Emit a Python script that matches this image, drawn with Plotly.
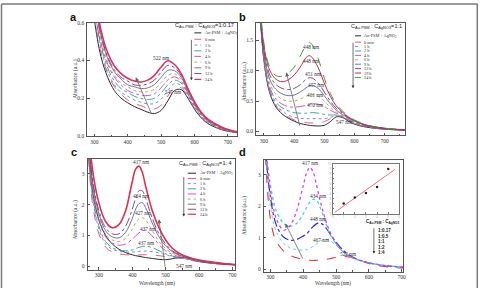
import plotly.graph_objects as go

# ---------------- Panel a : C(Au-PSM):C(AgNO3) = 1:0.17 ----------------
WL_A = [280, 300, 320, 340, 360, 380, 400, 420, 440, 460, 480, 500, 520, 540, 560, 580, 600, 620, 640, 680, 720, 740]
A_AUAG = [1.00, 0.62, 0.42, 0.31, 0.24, 0.20, 0.175, 0.155, 0.14, 0.125, 0.118, 0.135, 0.185, 0.24, 0.245, 0.20, 0.14, 0.095, 0.065, 0.033, 0.018, 0.013]
A_0MIN = [1.04, 0.64, 0.44, 0.33, 0.26, 0.22, 0.19, 0.17, 0.16, 0.145, 0.142, 0.163, 0.211, 0.257, 0.255, 0.206, 0.145, 0.099, 0.068, 0.035, 0.019, 0.013]
A_1H = [1.08, 0.66, 0.46, 0.34, 0.27, 0.23, 0.21, 0.19, 0.178, 0.169, 0.171, 0.195, 0.240, 0.276, 0.267, 0.213, 0.150, 0.103, 0.071, 0.037, 0.020, 0.014]
A_2H = [1.12, 0.68, 0.48, 0.36, 0.29, 0.25, 0.23, 0.21, 0.198, 0.193, 0.199, 0.227, 0.270, 0.295, 0.279, 0.220, 0.156, 0.107, 0.074, 0.039, 0.020, 0.014]
A_4H = [1.16, 0.70, 0.49, 0.38, 0.31, 0.27, 0.24, 0.225, 0.215, 0.213, 0.223, 0.255, 0.296, 0.312, 0.289, 0.226, 0.161, 0.111, 0.077, 0.040, 0.021, 0.015]
A_6H = [1.19, 0.72, 0.51, 0.39, 0.32, 0.28, 0.26, 0.24, 0.233, 0.234, 0.247, 0.282, 0.321, 0.328, 0.299, 0.232, 0.166, 0.114, 0.080, 0.042, 0.022, 0.015]
A_9H = [1.23, 0.74, 0.53, 0.41, 0.34, 0.30, 0.27, 0.26, 0.250, 0.254, 0.272, 0.310, 0.347, 0.345, 0.310, 0.238, 0.170, 0.118, 0.082, 0.044, 0.023, 0.015]
A_12H = [1.26, 0.76, 0.54, 0.42, 0.35, 0.31, 0.29, 0.27, 0.268, 0.275, 0.296, 0.337, 0.373, 0.361, 0.320, 0.244, 0.175, 0.121, 0.085, 0.045, 0.023, 0.016]
A_24H = [1.30, 0.78, 0.56, 0.44, 0.37, 0.33, 0.305, 0.29, 0.285, 0.295, 0.32, 0.365, 0.398, 0.378, 0.33, 0.25, 0.18, 0.125, 0.088, 0.047, 0.024, 0.016]

# ---------------- Panel b : 1:1 ----------------
WL_B = [280, 300, 320, 340, 360, 380, 400, 420, 440, 450, 460, 480, 500, 520, 540, 560, 580, 600, 640, 680, 720, 760, 770]
B_AUAG = [2.5, 1.16, 0.62, 0.40, 0.29, 0.22, 0.17, 0.13, 0.11, 0.10, 0.095, 0.09, 0.10, 0.16, 0.24, 0.23, 0.17, 0.12, 0.07, 0.045, 0.03, 0.02, 0.02]
B_0MIN = [2.5, 1.17, 0.63, 0.42, 0.31, 0.24, 0.19, 0.16, 0.145, 0.14, 0.14, 0.14, 0.16, 0.21, 0.26, 0.24, 0.18, 0.13, 0.075, 0.048, 0.032, 0.022, 0.02]
B_1H = [2.5, 1.18, 0.65, 0.44, 0.34, 0.27, 0.235, 0.215, 0.21, 0.21, 0.212, 0.21, 0.21, 0.23, 0.26, 0.24, 0.18, 0.13, 0.078, 0.05, 0.033, 0.022, 0.02]
B_2H = [2.5, 1.20, 0.68, 0.48, 0.39, 0.34, 0.31, 0.30, 0.30, 0.305, 0.31, 0.30, 0.28, 0.27, 0.27, 0.24, 0.19, 0.14, 0.082, 0.052, 0.034, 0.023, 0.02]
B_4H = [2.5, 1.22, 0.72, 0.53, 0.45, 0.41, 0.40, 0.41, 0.43, 0.44, 0.45, 0.45, 0.41, 0.35, 0.30, 0.25, 0.20, 0.15, 0.088, 0.055, 0.036, 0.024, 0.022]
B_6H = [2.5, 1.26, 0.78, 0.61, 0.53, 0.50, 0.50, 0.53, 0.58, 0.60, 0.61, 0.58, 0.50, 0.40, 0.32, 0.26, 0.21, 0.16, 0.093, 0.058, 0.038, 0.025, 0.023]
B_9H = [2.5, 1.30, 0.85, 0.69, 0.62, 0.59, 0.60, 0.65, 0.72, 0.75, 0.76, 0.71, 0.59, 0.46, 0.35, 0.28, 0.22, 0.17, 0.098, 0.06, 0.04, 0.026, 0.024]
B_12H = [2.5, 1.35, 0.92, 0.77, 0.71, 0.69, 0.71, 0.77, 0.86, 0.885, 0.88, 0.80, 0.65, 0.50, 0.38, 0.30, 0.23, 0.175, 0.10, 0.062, 0.041, 0.027, 0.025]
B_19H = [2.6, 1.40, 1.00, 0.86, 0.82, 0.85, 0.93, 1.06, 1.22, 1.25, 1.22, 1.05, 0.80, 0.58, 0.42, 0.32, 0.24, 0.18, 0.105, 0.065, 0.043, 0.028, 0.026]
B_24H = [2.7, 1.45, 1.05, 0.92, 0.91, 0.96, 1.06, 1.24, 1.43, 1.47, 1.43, 1.20, 0.88, 0.63, 0.45, 0.34, 0.25, 0.19, 0.11, 0.068, 0.045, 0.03, 0.027]

# ---------------- Panel c : 1:4 ----------------
WL_C = [266, 280, 300, 320, 340, 360, 380, 400, 410, 420, 430, 440, 460, 480, 500, 520, 540, 560, 580, 600, 640, 680, 708]
C_AUAG = [4.0, 2.5, 1.5, 1.0, 0.72, 0.55, 0.44, 0.37, 0.34, 0.32, 0.30, 0.28, 0.25, 0.22, 0.21, 0.24, 0.28, 0.27, 0.21, 0.15, 0.09, 0.055, 0.04]
C_0MIN = [4.1, 2.1, 1.05, 0.62, 0.46, 0.40, 0.37, 0.36, 0.36, 0.365, 0.37, 0.37, 0.36, 0.34, 0.31, 0.28, 0.26, 0.22, 0.18, 0.15, 0.095, 0.06, 0.042]
C_1H = [4.2, 2.3, 1.2, 0.72, 0.55, 0.48, 0.46, 0.46, 0.47, 0.48, 0.49, 0.49, 0.47, 0.43, 0.37, 0.31, 0.27, 0.23, 0.19, 0.155, 0.10, 0.063, 0.044]
C_2H = [4.3, 2.4, 1.3, 0.80, 0.60, 0.52, 0.50, 0.53, 0.57, 0.61, 0.64, 0.65, 0.60, 0.50, 0.40, 0.33, 0.28, 0.24, 0.20, 0.16, 0.10, 0.065, 0.045]
C_4H = [4.5, 2.6, 1.5, 0.95, 0.75, 0.68, 0.72, 0.88, 0.98, 1.08, 1.15, 1.16, 0.98, 0.70, 0.50, 0.38, 0.31, 0.26, 0.21, 0.17, 0.105, 0.068, 0.046]
C_6H = [4.6, 2.7, 1.6, 1.05, 0.85, 0.80, 0.90, 1.20, 1.40, 1.54, 1.58, 1.50, 1.15, 0.80, 0.57, 0.42, 0.34, 0.27, 0.22, 0.175, 0.11, 0.07, 0.048]
C_9H = [4.8, 2.8, 1.7, 1.15, 0.95, 0.92, 1.10, 1.55, 1.85, 2.03, 2.06, 1.90, 1.40, 0.95, 0.66, 0.47, 0.36, 0.29, 0.23, 0.18, 0.115, 0.072, 0.05]
C_12H = [5.0, 2.9, 1.8, 1.25, 1.05, 1.05, 1.30, 1.85, 2.20, 2.45, 2.45, 2.20, 1.55, 1.05, 0.72, 0.50, 0.38, 0.30, 0.24, 0.19, 0.12, 0.075, 0.05]
C_24H = [5.2, 3.2, 2.05, 1.45, 1.25, 1.35, 1.80, 2.75, 3.15, 3.25, 3.05, 2.60, 1.80, 1.25, 0.85, 0.58, 0.42, 0.32, 0.25, 0.20, 0.13, 0.08, 0.055]

# ---------------- Panel d : different ratios after 24 h ----------------
WL_D = [285, 292, 300, 310, 320, 340, 360, 380, 400, 410, 420, 430, 440, 450, 460, 470, 480, 500, 520, 540, 560, 580, 600, 640, 680, 705]
D_1_017 = [3.6, 2.4, 1.6, 1.1, 0.85, 0.58, 0.44, 0.36, 0.31, 0.29, 0.28, 0.275, 0.28, 0.285, 0.295, 0.31, 0.33, 0.37, 0.40, 0.385, 0.33, 0.25, 0.18, 0.09, 0.05, 0.035]
D_1_05 = [3.8, 2.8, 2.0, 1.45, 1.15, 0.82, 0.68, 0.62, 0.60, 0.62, 0.66, 0.72, 0.80, 0.88, 0.93, 0.95, 0.92, 0.76, 0.57, 0.43, 0.33, 0.26, 0.20, 0.12, 0.08, 0.06]
D_1_1 = [3.9, 3.0, 2.3, 1.7, 1.35, 1.02, 0.92, 0.94, 1.05, 1.12, 1.23, 1.35, 1.44, 1.47, 1.42, 1.30, 1.15, 0.86, 0.62, 0.45, 0.34, 0.26, 0.20, 0.12, 0.08, 0.06]
D_1_2 = [4.0, 3.3, 2.7, 2.15, 1.80, 1.46, 1.36, 1.45, 1.75, 1.95, 2.12, 2.22, 2.20, 2.00, 1.72, 1.42, 1.15, 0.80, 0.56, 0.41, 0.32, 0.25, 0.20, 0.13, 0.085, 0.065]
D_1_4 = [4.0, 3.2, 2.5, 1.9, 1.55, 1.24, 1.38, 1.85, 2.65, 3.05, 3.24, 3.10, 2.70, 2.25, 1.85, 1.50, 1.22, 0.82, 0.57, 0.42, 0.32, 0.25, 0.20, 0.13, 0.085, 0.065]

# inset of panel d
INSET_X = [1, 2, 3, 4, 5]
INSET_Y = [2.0, 3.2, 4.1, 5.3, 8.9]

TIME_NAMES_A = ["Au-PSM + AgNO<sub>3</sub>", "0 min", "1 h", "2 h", "4 h", "6 h", "9 h", "12 h", "24 h"]
TIME_NAMES_B = ["Au-PSM + AgNO<sub>3</sub>", "0 min", "1 h", "2 h", "4 h", "6 h", "9 h", "12 h", "19 h", "24 h"]
RATIO_NAMES = ["1:0.17", "1:0.5", "1:1", "1:2", "1:4"]

W, H = 481, 291
def PX(x):
    return x / W
def PY(y):
    return 1 - y / H

SERIF = "Liberation Serif"
SANS = "Liberation Sans"
AX_COL = "#555555"
TXT_COL = "#333333"

# styles: (color, dash, width)
ST = {
    "Au-PSM + AgNO<sub>3</sub>": ("#2b2b2b", "solid", 1.0),
    "0 min": ("#e0506a", "dash", 0.9),
    "1 h": ("#7080d0", "dot", 0.9),
    "2 h": ("#2a9d9a", "dashdot", 0.9),
    "4 h": ("#d040c0", "dashdot", 0.9),
    "6 h": ("#b0a830", "dot", 0.9),
    "9 h": ("#303a90", "solid", 0.7),
    "12 h": ("#7a3a6a", "dashdot", 0.9),
    "19 h": ("#d02848", "solid", 1.0),
}

fig = go.Figure()

def add_series(wl, ys, names, xa, ya, last_style):
    for name, y in zip(names, ys):
        c, d, w = last_style if name == "24 h" else ST[name]
        fig.add_trace(go.Scatter(x=wl, y=y, mode="lines", name=name,
                                 line=dict(color=c, dash=d, width=w, shape="spline", smoothing=1.0),
                                 xaxis=xa, yaxis=ya, showlegend=False, hoverinfo="skip"))

add_series(WL_A, [A_AUAG, A_0MIN, A_1H, A_2H, A_4H, A_6H, A_9H, A_12H, A_24H], TIME_NAMES_A, "x", "y",
           ("#e03060", "solid", 1.6))
add_series(WL_B, [B_AUAG, B_0MIN, B_1H, B_2H, B_4H, B_6H, B_9H, B_12H, B_19H, B_24H], TIME_NAMES_B, "x2", "y2",
           ("#3aa040", "dash", 1.0))
add_series(WL_C, [C_AUAG, C_0MIN, C_1H, C_2H, C_4H, C_6H, C_9H, C_12H, C_24H], TIME_NAMES_A, "x3", "y3",
           ("#e03050", "solid", 1.6))

D_STYLES = [("#e03838", "dash", 1.1), ("#60d0e0", "dot", 1.0), ("#3030c0", "dashdot", 1.2),
            ("#30d8d8", "dot", 1.2), ("#e040e0", "dot", 1.3)]
for name, y, (c, d, w) in zip(RATIO_NAMES, [D_1_017, D_1_05, D_1_1, D_1_2, D_1_4], D_STYLES):
    fig.add_trace(go.Scatter(x=WL_D, y=y, mode="lines", name=name,
                             line=dict(color=c, dash=d, width=w, shape="spline", smoothing=0.9),
                             xaxis="x4", yaxis="y4", showlegend=False, hoverinfo="skip"))

# inset: points and their least-squares line
n = len(INSET_X)
mx = sum(INSET_X) / n
my = sum(INSET_Y) / n
slope = sum((a - mx) * (b - my) for a, b in zip(INSET_X, INSET_Y)) / sum((a - mx) ** 2 for a in INSET_X)
icpt = my - slope * mx
fit_x = [0.2, 5.6]
fig.add_trace(go.Scatter(x=fit_x, y=[icpt + slope * v for v in fit_x], mode="lines",
                         line=dict(color="#e05050", width=0.8), xaxis="x5", yaxis="y5",
                         showlegend=False, hoverinfo="skip"))
fig.add_trace(go.Scatter(x=INSET_X, y=INSET_Y, mode="markers",
                         marker=dict(color="#222222", size=2.5), xaxis="x5", yaxis="y5",
                         showlegend=False, hoverinfo="skip"))

def xax(domain, rng, anchor):
    return dict(domain=domain, range=rng, anchor=anchor, showgrid=False, zeroline=False,
                showline=True, mirror=True, linecolor=AX_COL, linewidth=1,
                ticks="inside", ticklen=2.5, tickcolor=AX_COL, tickwidth=0.7,
                tickvals=[300, 400, 500, 600, 700],
                minor=dict(ticks="inside", ticklen=1.5, dtick=50, tickcolor=AX_COL),
                tickfont=dict(family=SERIF, size=5.5, color=TXT_COL), ticklabelstandoff=0)

def yax(domain, rng, anchor, tv, fmt):
    return dict(domain=domain, range=rng, anchor=anchor, showgrid=False, zeroline=False,
                showline=True, mirror=True, linecolor=AX_COL, linewidth=1,
                ticks="inside", ticklen=2.5, tickcolor=AX_COL, tickwidth=0.7,
                tickvals=tv, tickformat=fmt,
                tickfont=dict(family=SERIF, size=5.5, color=TXT_COL), ticklabelstandoff=1)

fig.update_layout(
    width=W, height=H, margin=dict(l=0, r=0, t=0, b=0),
    paper_bgcolor="white", plot_bgcolor="white", showlegend=False,
    xaxis=xax([PX(87), PX(238)], [279, 727], "y"),
    yaxis=yax([PY(136), PY(20)], [-0.002, 0.6], "x", [0, 0.2, 0.4, 0.6], ".1f"),
    xaxis2=xax([PX(257.3), PX(407.7)], [274, 769], "y2"),
    yaxis2=yax([PY(135), PY(20.7)], [-0.063, 1.785], "x2", [0, 0.5, 1.0, 1.5], ".1f"),
    xaxis3=xax([PX(87.3), PX(236)], [266, 708], "y3"),
    yaxis3=yax([PY(272.3), PY(159)], [-0.115, 3.49], "x3", [0, 1, 2, 3], "d"),
    xaxis4=xax([PX(265), PX(405.7)], [280, 705], "y4"),
    yaxis4=yax([PY(274.3), PY(160)], [-0.08, 3.48], "x4", [0, 1, 2, 3], "d"),
    xaxis5=dict(domain=[PX(334.3), PX(401.7)], range=[0, 6], anchor="y5", showgrid=False, zeroline=False,
                showline=True, mirror=True, linecolor="#777777", linewidth=0.6, ticks="inside",
                ticklen=1.5, tickcolor="#777777", dtick=1, tickfont=dict(size=3, color="#999999"),
                ticklabelstandoff=0),
    yaxis5=dict(domain=[PY(215), PY(164)], range=[0, 10], anchor="x5", showgrid=False, zeroline=False,
                showline=True, mirror=True, linecolor="#777777", linewidth=0.6, ticks="inside",
                ticklen=1.5, tickcolor="#777777", dtick=1, tickfont=dict(size=3, color="#999999"),
                ticklabelstandoff=0),
)

ann = []
shapes = []

def txt(x, y, s, size=5.5, fam=SERIF, xanchor="center", yanchor="middle", angle=0, color=TXT_COL, xref="paper", yref="paper"):
    ann.append(dict(x=x, y=y, xref=xref, yref=yref, text=s, showarrow=False, xanchor=xanchor, yanchor=yanchor,
                    textangle=angle, font=dict(family=fam, size=size, color=color)))

# panel letters
for lab, (x, y) in zip("abcd", [(72.7, 14), (243.3, 14), (74, 152.3), (243.3, 152.3)]):
    txt(PX(x), PY(y), "<b>%s</b>" % lab, size=11, fam=SANS, color="#111111")

# axis titles
for x, y in [(75, 78), (245, 80), (75, 221.7), (245, 216.7)]:
    txt(PX(x), PY(y), "Absorbance (a.u.)", size=5.5, angle=-90)
for x, y in [(157, 286.5), (335, 286.5)]:
    txt(PX(x), PY(y), "Wavelength (nm)", size=5.2)

# peak labels (data coords)
def plab(xr, yr, x, y, s):
    txt(x, y, s, size=5.3, xref=xr, yref=yr)

plab("x", "y", 501, 0.413, "522 nm")
plab("x", "y", 536, 0.232, "547 nm")
for x, y, s in [(458, 1.39, "448 nm"), (458, 1.16, "448 nm"), (464, 0.94, "451 nm"), (475, 0.76, "457 nm"),
                (470, 0.60, "461 nm"), (470, 0.44, "470 nm"), (568, 0.15, "547 nm")]:
    plab("x2", "y2", x, y, s)
for x, y, s in [(428, 3.39, "417 nm"), (428, 2.27, "424 nm"), (434, 1.74, "427 nm"), (450, 1.21, "437 nm"),
                (442, 0.75, "437 nm"), (556, 0.02, "547 nm")]:
    plab("x3", "y3", x, y, s)
for x, y, s in [(421, 3.38, "417 nm"), (446, 2.32, "434 nm"), (446, 1.58, "448 nm"), (456, 0.93, "467 nm"),
                (537, 0.47, "522 nm")]:
    plab("x4", "y4", x, y, s)

# trend arrows (data coords)
def darrow(xr, yr, x0, y0, x1, y1):
    ann.append(dict(x=x1, y=y1, ax=x0, ay=y0, xref=xr, yref=yr, axref=xr, ayref=yr, text="",
                    showarrow=True, arrowhead=2, arrowsize=1.0, arrowwidth=0.8, arrowcolor="#666666"))

darrow("x", "y", 472, 0.113, 424, 0.31)
darrow("x2", "y2", 420, 0.07, 374, 0.976)
darrow("x3", "y3", 499, -0.07, 480, 1.52)
darrow("x4", "y4", 401, 0.29, 345.6, 1.45)

# manual legends
TITLE_FMT = "C<sub>Au-PSM</sub> : C<sub>AgNO3</sub>=%s"

def legend(names, styles, xl0, xl1, xt, ys, title, tx, ty, arrow_x, arrow_y0, arrow_y1):
    txt(PX(tx), PY(ty), title, size=5.6, fam=SANS, xanchor="right", color="#222222")
    for nm, (c, d, w), y in zip(names, styles, ys):
        shapes.append(dict(type="line", xref="paper", yref="paper", x0=PX(xl0), x1=PX(xl1), y0=PY(y), y1=PY(y),
                           line=dict(color=c, dash=d if d != "solid" else None, width=min(w, 1.2))))
        txt(PX(xt), PY(y), nm, size=4.3, xanchor="left")
    ann.append(dict(x=PX(arrow_x), y=PY(arrow_y1), xref="paper", yref="paper", ax=0, ay=-(arrow_y1 - arrow_y0),
                    text="", showarrow=True, arrowhead=2, arrowsize=0.8, arrowwidth=0.7, arrowcolor="#333333"))

def styles_for(names, last):
    return [last if nm == "24 h" else ST[nm] for nm in names]

legend(TIME_NAMES_A, styles_for(TIME_NAMES_A, ("#e03060", "solid", 1.6)), 195, 202, 203.5,
       [30.5, 37, 42.9, 48.8, 54.5, 60.3, 66.2, 72, 78], TITLE_FMT % "1:0.17", 237, 23.3, 192, 37, 79)
legend(TIME_NAMES_B, styles_for(TIME_NAMES_B, ("#3aa040", "dash", 1.0)), 357, 363, 364.5,
       [33.5, 40, 44.5, 49, 53.5, 58, 62.5, 67, 71.5, 76], TITLE_FMT % "1:1", 406, 24.5, 355, 40, 87)
legend(TIME_NAMES_A, styles_for(TIME_NAMES_A, ("#e03050", "solid", 1.6)), 188.3, 196.7, 198.5,
       [173.8, 179.2, 184.4, 189.7, 195, 200.2, 205.4, 210.6, 215.7], TITLE_FMT % "1: 4", 235, 164.3, 184.3, 177, 218)

# panel d legend
txt(PX(385), PY(224), "<b>C<sub>Au-PSM</sub> : C<sub>AgNO3</sub></b>", size=4.5, fam=SANS, color="#222222")
for nm, y in zip(RATIO_NAMES, [232.3, 238, 243.7, 249.3, 255]):
    txt(PX(378.5), PY(y), "<b>%s</b>" % nm, size=4.5, fam=SANS, xanchor="left", color="#222222")
ann.append(dict(x=PX(376), y=PY(256), xref="paper", yref="paper", ax=0, ay=-27, text="", showarrow=True,
                arrowhead=2, arrowsize=0.8, arrowwidth=0.7, arrowcolor="#333333"))

# outer frame
for x0, y0, x1, y1 in [(0.5, 1, 480.5, 1), (0.5, 1, 0.5, 291), (480.3, 1, 480.3, 291)]:
    shapes.append(dict(type="line", xref="paper", yref="paper", x0=PX(x0), y0=PY(y0), x1=PX(x1), y1=PY(y1),
                       line=dict(color="#7a7a7a", width=1.5)))

fig.update_layout(annotations=ann, shapes=shapes)
fig.write_html("out.html")
